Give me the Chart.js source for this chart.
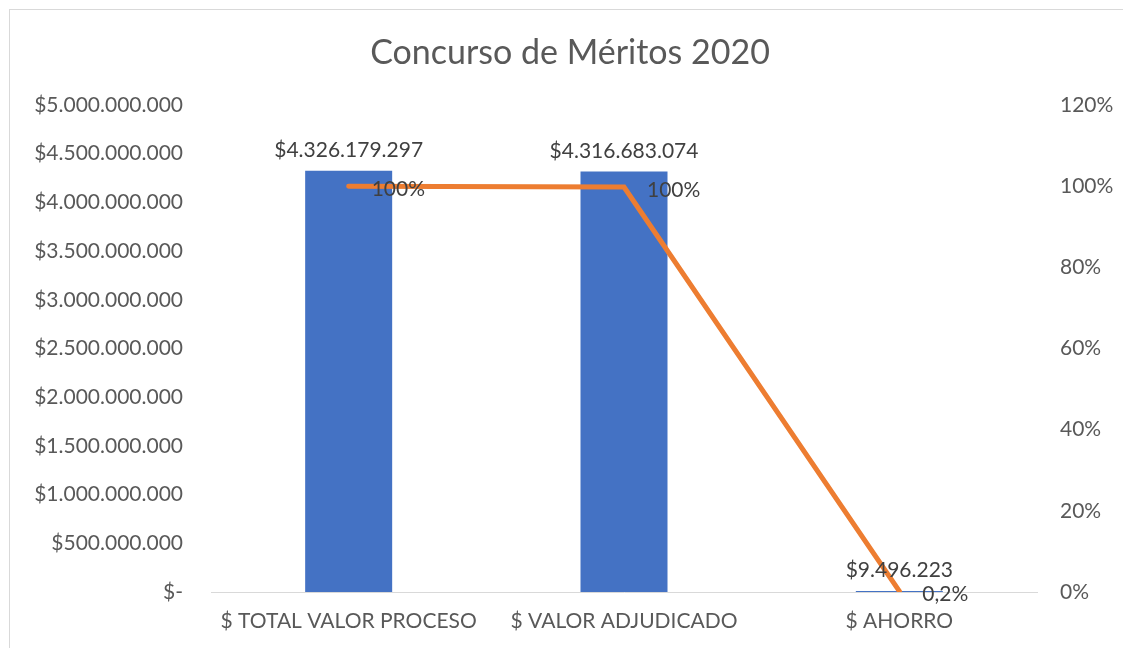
<!DOCTYPE html>
<html>
<head>
<meta charset="utf-8">
<script src="https://cdn.jsdelivr.net/npm/chart.js@4.4.1/dist/chart.umd.min.js"></script>
<style>
html,body{margin:0;padding:0;background:#fff;}
#wrap{width:1123px;height:648px;position:relative;}
</style>
</head>
<body>
<div id="wrap"><canvas id="c" width="1123" height="648"></canvas></div>
<script>
const chartTitle = 'Concurso de Méritos 2020';
const categories = ['$ TOTAL VALOR PROCESO', '$ VALOR ADJUDICADO', '$ AHORRO'];
const amounts = [4326179297, 4316683074, 9496223];
const shares = [1, 0.9978, 0.0022];
const amountAxisMax = 5000000000;
const amountAxisStep = 500000000;
const shareAxisMax = 1.2;
const shareAxisStep = 0.2;

const FONT = 'Lato, "Open Sans", sans-serif';
const TICK_COLOR = '#595959';
const LABEL_COLOR = '#404040';

function fmtMoney(n) {
  if (n === 0) return '$-';
  return '$' + String(Math.round(n)).replace(/\B(?=(\d{3})+(?!\d))/g, '.');
}
function fmtShare(v) {
  const p = v * 100;
  if (p < 1) return p.toFixed(1).replace('.', ',') + '%';
  return Math.round(p) + '%';
}

const decor = {
  id: 'decor',
  beforeDraw(chart) {
    const ctx = chart.ctx;
    ctx.save();
    ctx.fillStyle = '#fff';
    ctx.fillRect(0, 0, chart.width, chart.height);
    ctx.strokeStyle = '#d9d9d9';
    ctx.lineWidth = 1;
    ctx.strokeRect(9.5, 9.5, 2000, 2000);
    ctx.fillStyle = TICK_COLOR;
    ctx.font = '34px ' + FONT;
    ctx.textAlign = 'center';
    ctx.textBaseline = 'middle';
    ctx.fillText(chartTitle, 570, 53);
    ctx.restore();
  },
  afterDatasetsDraw(chart) {
    const ctx = chart.ctx;
    ctx.save();
    ctx.font = '21px ' + FONT;
    ctx.fillStyle = LABEL_COLOR;
    const barMeta = chart.getDatasetMeta(0);
    barMeta.data.forEach((el, i) => {
      ctx.textAlign = 'center';
      ctx.textBaseline = 'bottom';
      ctx.fillText(fmtMoney(amounts[i]), el.x, el.y - 10);
    });
    const lineMeta = chart.getDatasetMeta(1);
    lineMeta.data.forEach((el, i) => {
      ctx.textAlign = 'left';
      ctx.textBaseline = 'middle';
      ctx.fillText(fmtShare(shares[i]), el.x + 23, el.y + 3);
    });
    ctx.restore();
  }
};

new Chart(document.getElementById('c'), {
  type: 'bar',
  data: {
    labels: categories,
    datasets: [
      {
        type: 'bar',
        data: amounts,
        backgroundColor: '#4472C4',
        yAxisID: 'y',
        categoryPercentage: 1,
        barPercentage: 0.316,
        order: 1
      },
      {
        type: 'line',
        data: shares,
        borderColor: '#ED7D31',
        borderWidth: 5,
        borderCapStyle: 'round',
        pointRadius: 0,
        yAxisID: 'y1',
        order: 0
      }
    ]
  },
  options: {
    responsive: false,
    animation: false,
    devicePixelRatio: 1,
    layout: { padding: { top: 105, left: 0, right: 0, bottom: 0 } },
    plugins: { legend: { display: false }, tooltip: { enabled: false }, title: { display: false } },
    scales: {
      x: {
        grid: { display: false, drawTicks: false },
        border: { display: true, color: '#d9d9d9', width: 1 },
        ticks: { color: TICK_COLOR, font: { family: FONT, size: 21 }, padding: 17, maxRotation: 0, autoSkip: false },
        afterFit(s) { s.height = 56; }
      },
      y: {
        position: 'left',
        min: 0, max: amountAxisMax,
        grid: { display: false, drawTicks: false },
        border: { display: false },
        ticks: { stepSize: amountAxisStep, color: TICK_COLOR, font: { family: FONT, size: 21 }, padding: 28, callback: v => fmtMoney(v) },
        afterFit(s) { s.width = 211; }
      },
      y1: {
        position: 'right',
        min: 0, max: shareAxisMax,
        grid: { display: false, drawTicks: false },
        border: { display: false },
        ticks: { stepSize: shareAxisStep, color: TICK_COLOR, font: { family: FONT, size: 21 }, padding: 23, callback: v => Math.round(v * 100) + '%' },
        afterFit(s) { s.width = 86; }
      }
    }
  },
  plugins: [decor]
});
</script>
</body>
</html>
